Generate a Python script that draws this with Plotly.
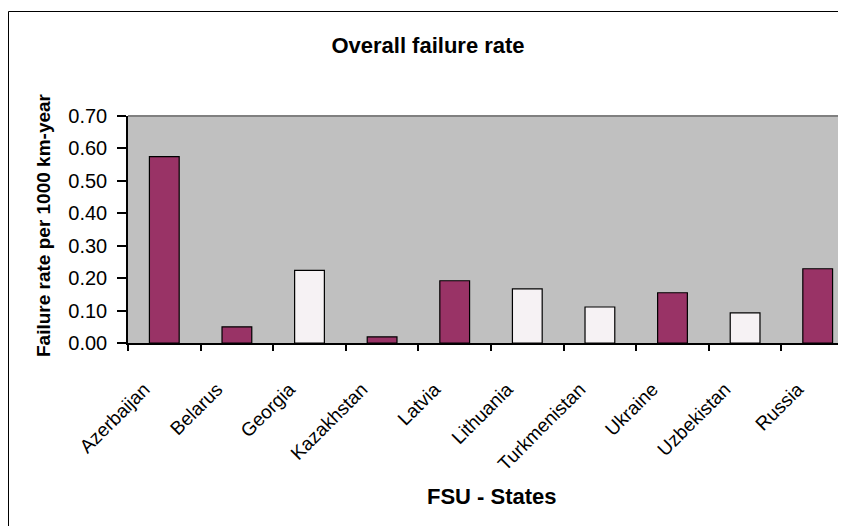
import plotly.graph_objects as go

# ---- data ----
categories = ["Azerbaijan", "Belarus", "Georgia", "Kazakhstan", "Latvia",
              "Lithuania", "Turkmenistan", "Ukraine", "Uzbekistan", "Russia"]
failure_rate = [0.575, 0.050, 0.224, 0.019, 0.192, 0.167, 0.111, 0.155, 0.093, 0.229]
y_ticks = [0.0, 0.1, 0.2, 0.3, 0.4, 0.5, 0.6, 0.7]

# ---- styles ----
PURPLE = "#993366"
LIGHT = "#F6F2F4"
bar_colors = [PURPLE, PURPLE, LIGHT, PURPLE, PURPLE, LIGHT, LIGHT, PURPLE, LIGHT, PURPLE]
FONT = "Arial, 'Liberation Sans', sans-serif"

W, H = 846, 526
ML, MR, MT, MB = 120, 0, 108, 191
plot_w = W - ML - MR
plot_h = H - MT - MB
n = len(categories)
cat_px = 72.6
x_range = [-0.5, -0.5 + plot_w / cat_px]

def px_x(px):
    return (px - ML) / plot_w

def px_y(py):
    return (H - MB - py) / plot_h

fig = go.Figure()
fig.add_trace(go.Bar(
    x=categories, y=failure_rate,
    marker=dict(color=bar_colors, line=dict(color="black", width=1.2)),
    width=0.41, hoverinfo="x+y", showlegend=False,
))

fig.update_layout(
    width=W, height=H,
    margin=dict(l=ML, r=MR, t=MT, b=MB, pad=0),
    paper_bgcolor="white",
    plot_bgcolor="#C0C0C0",
    font=dict(family=FONT, color="black"),
    title=dict(text="<b>Overall failure rate</b>", font=dict(size=22, family=FONT),
               x=420 / W, xanchor="center", xref="container",
               y=1 - 37 / H, yanchor="middle", yref="container"),
    xaxis=dict(type="category", categoryorder="array", categoryarray=categories,
               range=x_range, tickson="boundaries", ticks="outside", ticklen=6,
               tickwidth=1.5, tickcolor="black", showline=True, linecolor="black",
               linewidth=1.5, showgrid=False, zeroline=False, tickangle=-45,
               tickfont=dict(size=19, family=FONT), ticklabelstandoff=26,
               ticklabelshift=-20),
    xaxis2=dict(overlaying="x", anchor="y", side="bottom", range=x_range,
                tickmode="array", tickvals=[i - 0.5 for i in range(n + 1)],
                ticks="inside", ticklen=9, tickwidth=1.5, tickcolor="black",
                showticklabels=False, showline=False, showgrid=False, zeroline=False),
    yaxis=dict(range=[0, 0.7], tickmode="array", tickvals=y_ticks,
               ticktext=[f"{v:.2f}" for v in y_ticks], ticks="outside", ticklen=9,
               tickwidth=1.5, tickcolor="black", showline=True, linecolor="black",
               linewidth=1.5, showgrid=False, zeroline=False,
               tickfont=dict(size=20, family=FONT), ticklabelstandoff=6),
    bargap=0.59,
)

# axis titles
fig.add_annotation(text="<b>Failure rate per 1000 km-year</b>", xref="paper", yref="paper",
                   x=px_x(35), y=px_y(217), textangle=-90, showarrow=False,
                   font=dict(size=19, family=FONT), xanchor="center", yanchor="middle")
fig.add_annotation(text="<b>FSU - States</b>", xref="paper", yref="paper",
                   x=px_x(484), y=px_y(488), showarrow=False,
                   font=dict(size=22, family=FONT), xanchor="center", yanchor="middle")

# plot area top border and chart frame
fig.add_shape(type="line", xref="paper", yref="paper", x0=0, x1=1, y0=1, y1=1,
              line=dict(color="#808080", width=2))
fig.add_shape(type="rect", xref="paper", yref="paper",
              x0=px_x(0.5), x1=px_x(W + 20), y0=px_y(H + 20), y1=px_y(3.5),
              line=dict(color="black", width=1), layer="below")

fig.write_html("out.html",
               post_script="document.documentElement.style.overflow='hidden';"
                           "document.body.style.overflow='hidden';")
